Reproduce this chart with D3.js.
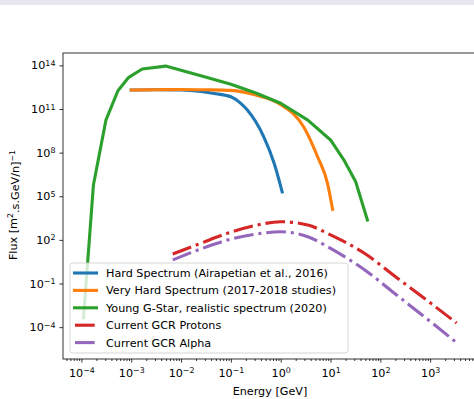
<!DOCTYPE html>
<html>
<head>
<meta charset="utf-8">
<script src="https://cdn.jsdelivr.net/npm/d3@7"></script>
<style>
  html, body { margin: 0; padding: 0; background: #fff; }
  svg { display: block; font-family: 'DejaVu Sans', sans-serif; }
</style>
</head>
<body>
<svg id="chart"></svg>
<script>
// values (energy in GeV, flux in (m^2.s.GeV/n)^-1)
const hardE = [1e-3, 3.2e-3, 1e-2, 2.5e-2, 5e-2, 0.1, 0.158, 0.214, 0.457, 0.741, 1.07];
const hardF = [2.0e12, 2.1e12, 2.0e12, 1.6e12, 1.12e12, 6.9e11, 2.45e11, 8.5e10, 1.23e9, 1.8e7, 2.0e5];

const veryHardE = [1e-3, 3.2e-3, 1e-2, 3.2e-2, 0.1, 0.316, 1.0, 2.88, 5.5, 8.7, 11.0];
const veryHardF = [2.0e12, 2.1e12, 2.2e12, 2.1e12, 1.9e12, 9.1e11, 2.0e11, 6.0e9, 5.2e7, 7.8e5, 1.26e4];

const gStarE = [1.1e-4, 1.74e-4, 3.1e-4, 5.4e-4, 8.9e-4, 1.66e-3, 4.9e-3, 3.2e-2, 0.1, 0.316, 1.0, 3.5, 10, 18.6, 32, 55];
const gStarF = [4.3e-4, 5.9e5, 1.7e10, 1.8e12, 1.5e13, 5.6e13, 8.9e13, 1.5e13, 5.0e12, 1.26e12, 2.5e11, 1.7e10, 7.4e8, 3.1e7, 1.0e6, 2.3e3];

const gcrE = [6.8e-3, 2.5e-2, 8.5e-2, 0.316, 1.0, 3.5, 10, 47.9, 224, 1050, 3400];
const protonF = [10.7, 59, 282, 1000, 1780, 1050, 219, 12.0, 0.22, 4.2e-3, 1.9e-4];
const alphaF = [4.2, 24, 98, 250, 363, 166, 26, 0.89, 1.4e-2, 2.2e-4, 8.5e-6];

const seriesNames = [
  'Hard Spectrum (Airapetian et al., 2016)',
  'Very Hard Spectrum (2017-2018 studies)',
  'Young G-Star, realistic spectrum (2020)',
  'Current GCR Protons',
  'Current GCR Alpha'
];
const colors = ['#1f77b4', '#ff7f0e', '#2ca02c', '#d62728', '#9467bd'];

const xTickExps = [-4, -3, -2, -1, 0, 1, 2, 3];
const yTickExps = [-4, -1, 2, 5, 8, 11, 14];

const W = 474, H = 399;
const margin = { top: 53, left: 63 };
const width = 412;
const height = 306;
const fs = '11.2px';
const supFs = '7.9px';
const dashDot = '19.7,4.9,3.1,4.9';

const svg = d3.select('#chart').attr('width', W).attr('height', H);

// thin band at the very top of the screenshot
svg.append('rect').attr('x', 0).attr('y', 0).attr('width', W).attr('height', 5).attr('fill', '#e7e7f1');

const x = d3.scaleLog().domain([Math.pow(10, -4.37), Math.pow(10, 3.9)]).range([0, width]);
const y = d3.scaleLog().domain([Math.pow(10, -6.19), Math.pow(10, 14.85)]).range([height, 0]);

const chart = svg.append('g').attr('transform', `translate(${margin.left}, ${margin.top})`);

const zip = (xs, ys) => xs.map((v, i) => [v, ys[i]]);
const series = [
  { pts: zip(hardE, hardF), dash: null, curve: d3.curveMonotoneX },
  { pts: zip(veryHardE, veryHardF), dash: null, curve: d3.curveMonotoneX },
  { pts: zip(gStarE, gStarF), dash: null, curve: d3.curveLinear },
  { pts: zip(gcrE, protonF), dash: dashDot, curve: d3.curveMonotoneX },
  { pts: zip(gcrE, alphaF), dash: dashDot, curve: d3.curveMonotoneX }
];

series.forEach((s, i) => {
  const line = d3.line().curve(s.curve).x(d => x(d[0])).y(d => y(d[1]));
  chart.append('path')
    .attr('d', line(s.pts))
    .attr('fill', 'none')
    .attr('stroke', colors[i])
    .attr('stroke-width', 3.1)
    .attr('stroke-linejoin', 'round')
    .attr('stroke-linecap', s.dash ? 'butt' : 'square')
    .attr('stroke-dasharray', s.dash);
});

// superscript tick labels like 10^-4
const supLabel = (sel, exp) => {
  sel.text(null);
  sel.append('tspan').text('10');
  sel.append('tspan')
    .attr('dy', '-0.45em')
    .style('font-size', supFs)
    .text(String(exp).replace('-', '\u2212'));
};

const xAxis = chart.append('g')
  .attr('transform', `translate(0, ${height})`)
  .call(d3.axisBottom(x).tickValues(xTickExps.map(e => Math.pow(10, e))).tickSize(3.6).tickPadding(6));
xAxis.selectAll('text').each(function(d) { supLabel(d3.select(this), Math.round(Math.log10(d))); });

// minor ticks on the x axis
const minors = [];
for (let e = -5; e <= 3; e++) {
  for (let k = 2; k <= 9; k++) {
    const v = k * Math.pow(10, e);
    if (v > x.domain()[0] && v < x.domain()[1]) minors.push(v);
  }
}
chart.append('g')
  .attr('transform', `translate(0, ${height})`)
  .call(d3.axisBottom(x).tickValues(minors).tickSize(2).tickFormat(''))
  .call(g => g.select('.domain').remove());

const yAxis = chart.append('g')
  .call(d3.axisLeft(y).tickValues(yTickExps.map(e => Math.pow(10, e))).tickSize(3.6).tickPadding(4));
yAxis.selectAll('text').each(function(d) { supLabel(d3.select(this), Math.round(Math.log10(d))); });

chart.selectAll('.tick text').style('font-size', fs).attr('fill', '#000').style('font-family', 'DejaVu Sans');
chart.selectAll('.tick line').attr('stroke', '#000').attr('stroke-width', 0.8);
chart.selectAll('.domain').remove();

// spines
chart.append('rect')
  .attr('x', 0).attr('y', 0).attr('width', width).attr('height', height)
  .attr('fill', 'none').attr('stroke', '#000').attr('stroke-width', 0.8);

// axis labels
svg.append('text')
  .attr('x', 270)
  .attr('y', 395)
  .attr('text-anchor', 'middle')
  .style('font-size', fs)
  .text('Energy [GeV]');

const yl = svg.append('text')
  .attr('transform', 'translate(17, 205) rotate(-90)')
  .attr('text-anchor', 'middle')
  .style('font-size', fs);
yl.append('tspan').text('Flux [m');
yl.append('tspan').attr('dy', '-0.45em').style('font-size', supFs).text('2');
yl.append('tspan').attr('dy', '0.45em').text('.s.GeV/n]');
yl.append('tspan').attr('dy', '-0.45em').style('font-size', supFs).text('\u22121');

// legend
const legend = svg.append('g').attr('transform', 'translate(70, 263)');
legend.append('rect')
  .attr('x', 0).attr('y', 0).attr('width', 278).attr('height', 90)
  .attr('rx', 3)
  .attr('fill', '#fff').attr('fill-opacity', 0.8)
  .attr('stroke', '#cccccc').attr('stroke-width', 0.8);

seriesNames.forEach((name, i) => {
  const ry = 10 + i * 17.4;
  const dashed = !!series[i].dash;
  legend.append('line')
    .attr('x1', dashed ? 5 : 3).attr('x2', dashed ? 24.7 : 28).attr('y1', ry).attr('y2', ry)
    .attr('stroke', colors[i]).attr('stroke-width', 3.1);
  legend.append('text')
    .attr('x', 36).attr('y', ry + 4)
    .style('font-size', fs)
    .text(name);
});
</script>
</body>
</html>
